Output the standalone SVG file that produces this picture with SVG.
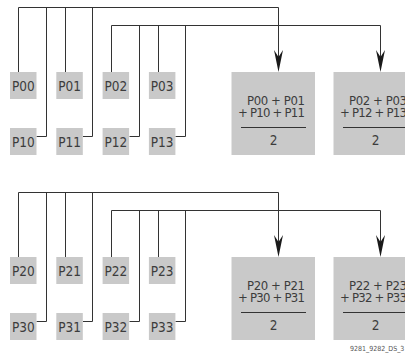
<svg xmlns="http://www.w3.org/2000/svg" width="405" height="354" viewBox="0 0 405 354">
<defs>
<style>
.bx{fill:#c9c9c9}
.t{font-family:"DejaVu Sans Condensed","DejaVu Sans",sans-serif;font-size:13.5px;fill:#3c3c3c}
.f{font-family:"DejaVu Sans Condensed","DejaVu Sans",sans-serif;font-size:13px;fill:#3c3c3c}
.m{text-anchor:middle}
.w{stroke:#333;stroke-width:1;fill:none}
.ar{fill:#1a1a1a}
.cap{font-family:"DejaVu Sans Condensed","DejaVu Sans",sans-serif;font-size:7px;fill:#555}
</style>
<path id="ah" d="M-4.5,-22 L0,-15 L4.5,-22 L0,0 Z"/>
</defs>
<rect width="405" height="354" fill="#fff"/>

<g id="connectors">
<path class="w" d="M18.5,72 V7.5 H278.5 V57"/>
<path class="w" d="M36.5,136.5 H46.5 V7.5"/>
<path class="w" d="M65.5,72 V7.5"/>
<path class="w" d="M83,136.5 H92.5 V7.5"/>
<path class="w" d="M111.5,72 V25.5 H380.5 V57"/>
<path class="w" d="M129.5,136.5 H139.5 V25.5"/>
<path class="w" d="M158.5,72 V25.5"/>
<path class="w" d="M175.5,136.5 H185.5 V25.5"/>
<use href="#ah" class="ar" x="278.5" y="72"/>
<use href="#ah" class="ar" x="380.5" y="72"/>
<path class="w" d="M18.5,257 V192.5 H278.5 V242"/>
<path class="w" d="M36.5,321.5 H46.5 V192.5"/>
<path class="w" d="M65.5,257 V192.5"/>
<path class="w" d="M83,321.5 H92.5 V192.5"/>
<path class="w" d="M111.5,257 V210.5 H380.5 V242"/>
<path class="w" d="M129.5,321.5 H139.5 V210.5"/>
<path class="w" d="M158.5,257 V210.5"/>
<path class="w" d="M175.5,321.5 H185.5 V210.5"/>
<use href="#ah" class="ar" x="278.5" y="257"/>
<use href="#ah" class="ar" x="380.5" y="257"/>
</g>

<g id="P00"><rect class="bx" x="10" y="72" width="26.5" height="27"/><text class="t m" x="23.3" y="91">P00</text></g>
<g id="P01"><rect class="bx" x="56.3" y="72" width="26.5" height="27"/><text class="t m" x="69.6" y="91">P01</text></g>
<g id="P02"><rect class="bx" x="102.6" y="72" width="26.5" height="27"/><text class="t m" x="115.9" y="91">P02</text></g>
<g id="P03"><rect class="bx" x="148.9" y="72" width="26.5" height="27"/><text class="t m" x="162.2" y="91">P03</text></g>
<g id="P10"><rect class="bx" x="10" y="128" width="26.5" height="27"/><text class="t m" x="23.3" y="146.5">P10</text></g>
<g id="P11"><rect class="bx" x="56.3" y="128" width="26.5" height="27"/><text class="t m" x="69.6" y="146.5">P11</text></g>
<g id="P12"><rect class="bx" x="102.6" y="128" width="26.5" height="27"/><text class="t m" x="115.9" y="146.5">P12</text></g>
<g id="P13"><rect class="bx" x="148.9" y="128" width="26.5" height="27"/><text class="t m" x="162.2" y="146.5">P13</text></g>

<g id="P20"><rect class="bx" x="10" y="257" width="26.5" height="27"/><text class="t m" x="23.3" y="276">P20</text></g>
<g id="P21"><rect class="bx" x="56.3" y="257" width="26.5" height="27"/><text class="t m" x="69.6" y="276">P21</text></g>
<g id="P22"><rect class="bx" x="102.6" y="257" width="26.5" height="27"/><text class="t m" x="115.9" y="276">P22</text></g>
<g id="P23"><rect class="bx" x="148.9" y="257" width="26.5" height="27"/><text class="t m" x="162.2" y="276">P23</text></g>
<g id="P30"><rect class="bx" x="10" y="313" width="26.5" height="27"/><text class="t m" x="23.3" y="331.5">P30</text></g>
<g id="P31"><rect class="bx" x="56.3" y="313" width="26.5" height="27"/><text class="t m" x="69.6" y="331.5">P31</text></g>
<g id="P32"><rect class="bx" x="102.6" y="313" width="26.5" height="27"/><text class="t m" x="115.9" y="331.5">P32</text></g>
<g id="P33"><rect class="bx" x="148.9" y="313" width="26.5" height="27"/><text class="t m" x="162.2" y="331.5">P33</text></g>

<g id="avg0">
<rect class="bx" x="231.5" y="72" width="83.5" height="83"/>
<text class="f" x="247" y="104.5" textLength="58" lengthAdjust="spacing">P00 + P01</text>
<text class="f" x="238" y="117" textLength="67" lengthAdjust="spacing">+ P10 + P11</text>
<path class="w" d="M241,127.5 H306"/>
<text class="t m" x="273.5" y="145">2</text>
</g>
<g id="avg1">
<rect class="bx" x="333.5" y="72" width="83.5" height="83"/>
<text class="f" x="349" y="104.5" textLength="58" lengthAdjust="spacing">P02 + P03</text>
<text class="f" x="340" y="117" textLength="67" lengthAdjust="spacing">+ P12 + P13</text>
<path class="w" d="M343,127.5 H408"/>
<text class="t m" x="375.5" y="145">2</text>
</g>
<g id="avg2">
<rect class="bx" x="231.5" y="257" width="83.5" height="83"/>
<text class="f" x="247" y="289.5" textLength="58" lengthAdjust="spacing">P20 + P21</text>
<text class="f" x="238" y="302" textLength="67" lengthAdjust="spacing">+ P30 + P31</text>
<path class="w" d="M241,312.5 H306"/>
<text class="t m" x="273.5" y="330">2</text>
</g>
<g id="avg3">
<rect class="bx" x="333.5" y="257" width="83.5" height="83"/>
<text class="f" x="349" y="289.5" textLength="58" lengthAdjust="spacing">P22 + P23</text>
<text class="f" x="340" y="302" textLength="67" lengthAdjust="spacing">+ P32 + P33</text>
<path class="w" d="M343,312.5 H408"/>
<text class="t m" x="375.5" y="330">2</text>
</g>

<text class="cap" x="350" y="351">9281_9282_DS_3</text>
</svg>
